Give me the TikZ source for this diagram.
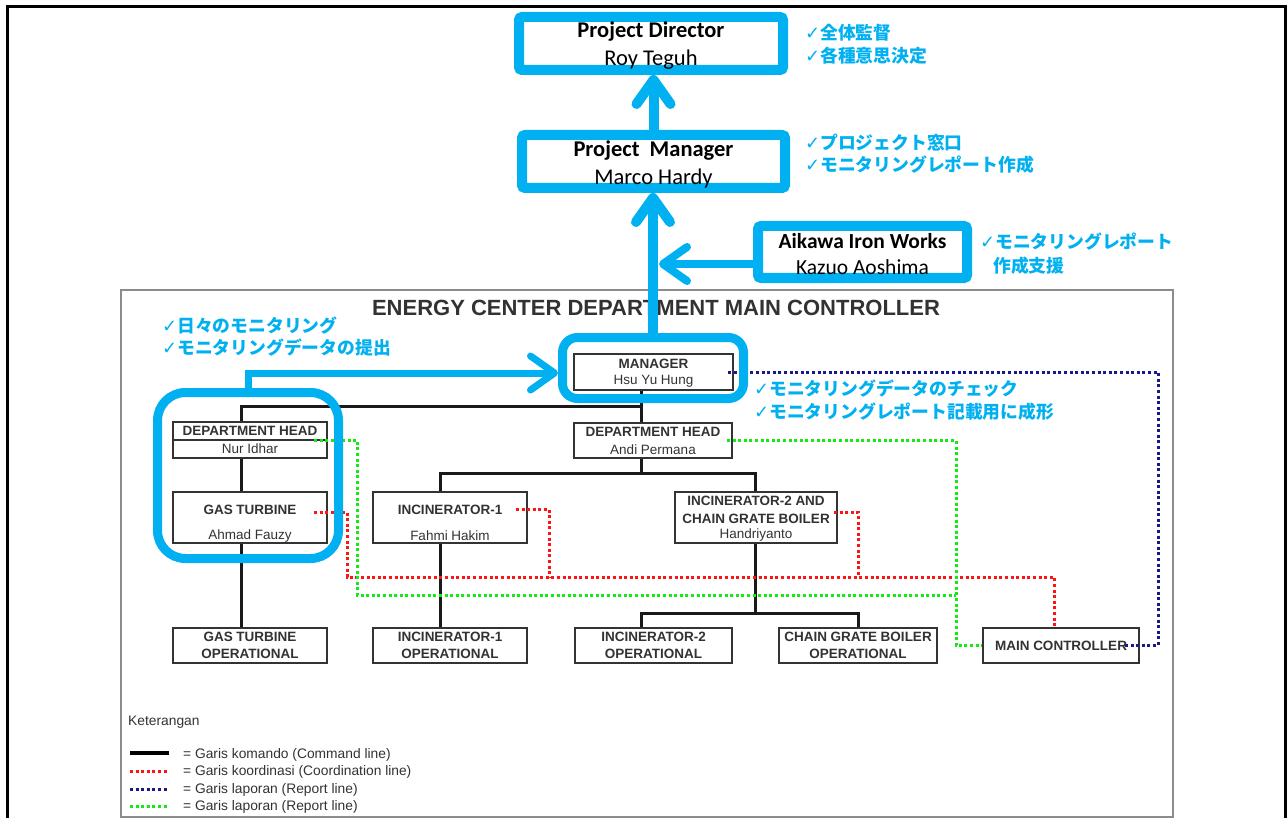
\documentclass[tikz,border=0pt]{standalone}
\usepackage{fontspec}
\setmainfont{Carlito}
\newfontfamily\arialf{Liberation Sans}
\newfontfamily\jpf{Noto Sans CJK JP}
\newfontfamily\dvf{DejaVu Sans}
\usetikzlibrary{arrows.meta,calc}
\definecolor{hl}{RGB}{0,176,240}
\definecolor{rl}{RGB}{255,20,20}
\definecolor{gl}{RGB}{20,235,20}
\definecolor{bl}{RGB}{25,25,140}
\definecolor{tx}{RGB}{50,50,50}
\newcommand{\ck}{{\dvf\mdseries\fontsize{18}{18}\selectfont ✓}}
\begin{document}
\begin{tikzpicture}[x=1pt,y=-1pt,
  hlbox/.style={draw=hl,line width=10pt,rounded corners=3pt,inner sep=0pt},
  ttop/.style={inner sep=0pt,align=center,font=\fontsize{22.5}{28}\selectfont},
  hlr/.style={draw=hl,line width=9pt,inner sep=0pt},
  harrow/.style={draw=hl,line width=10pt,-{Straight Barb[length=24pt,width=34pt,round]}},
  jp/.style={font=\jpf\bfseries\fontsize{17.8}{17.8}\selectfont,text=hl,anchor=west,inner sep=0pt},
  ibox/.style={draw=black!80,line width=2pt,inner sep=0pt},
  tl/.style={font=\arialf\fontsize{13.5}{13.5}\selectfont,text=tx,inner sep=0pt},
  tlb/.style={font=\arialf\bfseries\fontsize{13.5}{13.5}\selectfont,text=tx,inner sep=0pt},
  tlb2/.style={tlb,align=center,font=\arialf\bfseries\fontsize{13.5}{17}\selectfont},
  cmd/.style={draw=black!90,line width=3pt},
  rdot/.style={draw=rl,line width=3pt,dash pattern=on 3pt off 2.6pt},
  gdot/.style={draw=gl,line width=3pt,dash pattern=on 3pt off 2.6pt},
  bdot/.style={draw=bl,line width=3pt,dash pattern=on 3pt off 2.6pt},
  lg/.style={font=\arialf\fontsize{13.8}{13.8}\selectfont,text=tx,anchor=west,inner sep=0pt}
]
\useasboundingbox (0,0) rectangle (1287,818);
% outer frame
\draw[line width=3pt] (7,830) -- (7,7) -- (1285,7) -- (1285,830);
% inner frame
\draw[black!45,line width=1.5pt] (121,290) rectangle (1173,817);

% top boxes
\node[hlbox,minimum width=264pt,minimum height=53pt] (pd) at (651,43.5) {};
\node[ttop] (pdT) at (651,45.5) {\textbf{Project Director}\\Roy Teguh};
\node[hlbox,minimum width=263pt,minimum height=53pt] (pm) at (653.5,161.5) {};
\node[ttop] (pmT) at (653.5,164.5) {\textbf{Project\ \ Manager}\\Marco Hardy};
\node[hlbox,minimum width=209pt,minimum height=52pt] (ai) at (862.5,252) {};
\node[ttop,font=\fontsize{21.5}{26}\selectfont] (aiT) at (862.5,254) {\textbf{Aikawa Iron Works}\\Kazuo Aoshima};

% annotations
\node[jp] (a1) at (805,33) {\ck 全体監督};
\node[jp] (a2) at (805,56) {\ck 各種意思決定};
\node[jp] (a3) at (805,143) {\ck プロジェクト窓口};
\node[jp] (a4) at (805,165) {\ck モニタリングレポート作成};
\node[jp] (a5) at (980,242) {\ck モニタリングレポート};
\node[jp] (a6) at (993,266) {作成支援};
\node[jp] (a7) at (162,326) {\ck 日々のモニタリング};
\node[jp] (a8) at (162,348) {\ck モニタリングデータの提出};
\node[jp] (a9) at (754,389) {\ck モニタリングデータのチェック};
\node[jp] (a10) at (754,412) {\ck モニタリングレポート記載用に成形};

% title
\node[font=\arialf\bfseries\fontsize{22}{22}\selectfont,text=tx,inner sep=0pt] (title) at (656,308) {ENERGY CENTER DEPARTMENT MAIN CONTROLLER};

% inner boxes
\node[ibox,minimum width=159pt,minimum height=36pt] (mgr) at (653.5,372) {};
\node[tlb] (mgrA) at (653.5,364) {MANAGER};
\node[tl] (mgrB) at (653.5,381) {Hsu Yu Hung};

\node[ibox,minimum width=154pt,minimum height=36pt] (dhL) at (250,440) {};
\draw[black!80,line width=2pt] (dhL.west) -- (dhL.east);
\node[tlb] (dhLA) at (250,431) {DEPARTMENT HEAD};
\node[tl] (dhLB) at (250,449) {Nur Idhar};

\node[ibox,minimum width=158pt,minimum height=35pt] (dhR) at (653,440.5) {};
\node[tlb] (dhRA) at (653,432) {DEPARTMENT HEAD};
\node[tl] (dhRB) at (653,450) {Andi Permana};

\node[ibox,minimum width=154pt,minimum height=51pt] (gt) at (250,517.5) {};
\node[tlb] (gtA) at (250,510) {GAS TURBINE};
\node[tl] (gtB) at (250,536) {Ahmad Fauzy};

\node[ibox,minimum width=154pt,minimum height=51pt] (inc1) at (450,517.5) {};
\node[tlb] (inc1A) at (450,510) {INCINERATOR-1};
\node[tl] (inc1B) at (450,536) {Fahmi Hakim};

\node[ibox,minimum width=162pt,minimum height=51pt] (inc2) at (756,517.5) {};
\node[tlb] (inc2A) at (756,501) {INCINERATOR-2 AND};
\node[tlb] (inc2B) at (756,519) {CHAIN GRATE BOILER};
\node[tl] (inc2C) at (756,535) {Handriyanto};

\node[ibox,minimum width=154pt,minimum height=35pt] (gto) at (250,645.5) {};
\node[tlb2] (gtoT) at (250,645.5) {GAS TURBINE\\OPERATIONAL};
\node[ibox,minimum width=154pt,minimum height=35pt] (inc1o) at (450,645.5) {};
\node[tlb2] (inc1oT) at (450,645.5) {INCINERATOR-1\\OPERATIONAL};
\node[ibox,minimum width=157pt,minimum height=35pt] (inc2o) at (653.5,645.5) {};
\node[tlb2] (inc2oT) at (653.5,645.5) {INCINERATOR-2\\OPERATIONAL};
\node[ibox,minimum width=158pt,minimum height=35pt] (cgbo) at (858,645.5) {};
\node[tlb2] (cgboT) at (858,645.5) {CHAIN GRATE BOILER\\OPERATIONAL};
\node[ibox,minimum width=156pt,minimum height=35pt] (mc) at (1061,645.5) {};
\node[tlb] (mcT) at (1061,646) {MAIN CONTROLLER};

% helper coordinates
\coordinate (xL) at (241,0);
\coordinate (xC) at (641,0);
\coordinate (x1) at (440,0);
\coordinate (x2) at (755,0);
\coordinate (yH) at (0,406);
\coordinate (yM) at (0,473);
\coordinate (yB) at (0,613);
\coordinate (rY) at (0,577);
\coordinate (rx0) at (347,0);
\coordinate (rx1) at (549,0);
\coordinate (rx2) at (858,0);
\coordinate (rxM) at (1054,0);
\coordinate (gY) at (0,595);
\coordinate (gx0) at (357,0);
\coordinate (gx1) at (956,0);
\coordinate (bx) at (1158,0);

% command lines
\draw[cmd] (mgr.south -| xC) -- (dhR.north -| xC);
\draw[cmd] (yH -| xC) -| (dhL.north -| xL);
\draw[cmd] (dhL.south -| xL) -- (gt.north -| xL);
\draw[cmd] (gt.south -| xL) -- (gto.north -| xL);
\draw[cmd] (dhR.south -| xC) -- (yM -| xC);
\draw[cmd] (inc1.north -| x1) |- (yM -| x2) -- (inc2.north -| x2);
\draw[cmd] (inc1.south -| x1) -- (inc1o.north -| x1);
\draw[cmd] (inc2.south -| x2) -- (yB -| x2);
\draw[cmd] (inc2o.north -| xC) |- (yB -| cgbo.north) -- (cgbo.north);

% coordination lines (red)
\draw[rdot] ($(gt.east)+(-14,-5.5)$) -| (rY -| rx0) -- (rY -| rxM) -- (mc.north -| rxM);
\draw[rdot] ($(inc1.east)+(-12,-8.5)$) -| (rY -| rx1);
\draw[rdot] ($(inc2.east)+(-4,-5.5)$) -| (rY -| rx2);
% report lines (green)
\draw[gdot] ($(dhL.east)+(-14,0)$) -| (gY -| gx0) -- (gY -| gx1);
\draw[gdot] ($(dhR.east)+(-6,0)$) -| (mc.west -| gx1) -- (mc.west);
% report line (blue)
\draw[bdot] ($(mgr.east)+(-6,0)$) -| (mc.east -| bx) -- ($(mc.east)+(-17,0)$);

% legend
\node[lg] (ket) at (128,722) {Keterangan};
\draw[black,line width=4pt] (130,753) -- (169,753);
\draw[rdot] (130,771) -- (169,771);
\draw[bdot] (130,789) -- (169,789);
\draw[gdot] (130,806) -- (169,806);
\node[lg] (l1) at (183,755) {= Garis komando (Command line)};
\node[lg] (l2) at (183,772) {= Garis koordinasi (Coordination line)};
\node[lg] (l3) at (183,790) {= Garis laporan (Report line)};
\node[lg] (l4) at (183,807) {= Garis laporan (Report line)};

% highlight boxes
\node[hlr,minimum width=181pt,minimum height=61pt,rounded corners=15pt] (mgrHL) at (653,368) {};
\node[hlr,minimum width=181pt,minimum height=166pt,rounded corners=28pt] (nurHL) at (248,475.5) {};

% blue arrows
\draw[harrow] (pm.north) -- (pm.north |- pd.south);
\draw[harrow] (mgrHL.north) -- (mgrHL.north |- pm.south);
\coordinate (aitip) at (659,264);
\draw[harrow,line width=8pt] (ai.west |- aitip) -- (aitip);
\draw[harrow,line width=7pt] (nurHL.north) |- ($(mgrHL.west)+(0,5)$);
\end{tikzpicture}
\end{document}
